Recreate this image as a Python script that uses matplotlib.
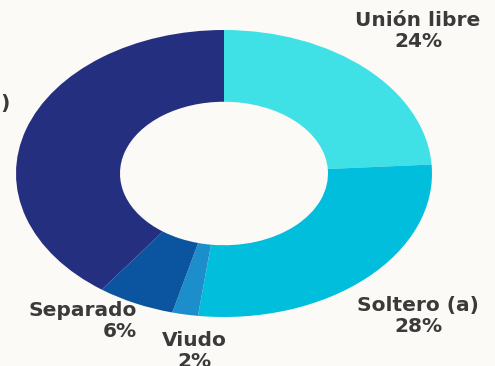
import matplotlib
matplotlib.use("Agg")
import matplotlib.pyplot as plt

categories = ["Unión libre", "Soltero (a)", "Viudo", "Separado", "Casado (a)"]
values = [24, 28, 2, 6, 40]
colors = ["#40e1e6", "#00bedc", "#1c8ecb", "#0b55a0", "#252f80"]

bg = "#fbfaf6"
fig = plt.figure(figsize=(4.95, 3.66), dpi=100, facecolor=bg)
W, H = 495, 366
# axes covering the (elliptical) donut: x 16..432, y 30..317 in pixels
ax = fig.add_axes([16 / W, 1 - 317 / H, 416 / W, 287 / H])
ax.set_facecolor(bg)
ax.pie(values, colors=colors, startangle=90, counterclock=False, radius=1,
       wedgeprops=dict(width=0.5, linewidth=0), frame=False)
ax.set_aspect("auto")
ax.set_xlim(-1, 1)
ax.set_ylim(-1, 1)
ax.axis("off")

txt = dict(fontsize=14.5, fontweight="bold", color="#3a3a3a", family="DejaVu Sans",
           linespacing=1.15)

def lab(x, y, s, ha="center"):
    fig.text(x / W, 1 - y / H, s, ha=ha, va="center", **txt)

lab(418, 31, f"{categories[0]}\n{values[0]}%")
lab(418, 316, f"{categories[1]}\n{values[1]}%")
lab(194, 351, f"{categories[2]}\n{values[2]}%")
lab(137, 321, f"{categories[3]}\n{values[3]}%", ha="right")
lab(-50, 114, f"{categories[4]}\n{values[4]}%")

fig.savefig("out.png", dpi=100, facecolor=bg)
